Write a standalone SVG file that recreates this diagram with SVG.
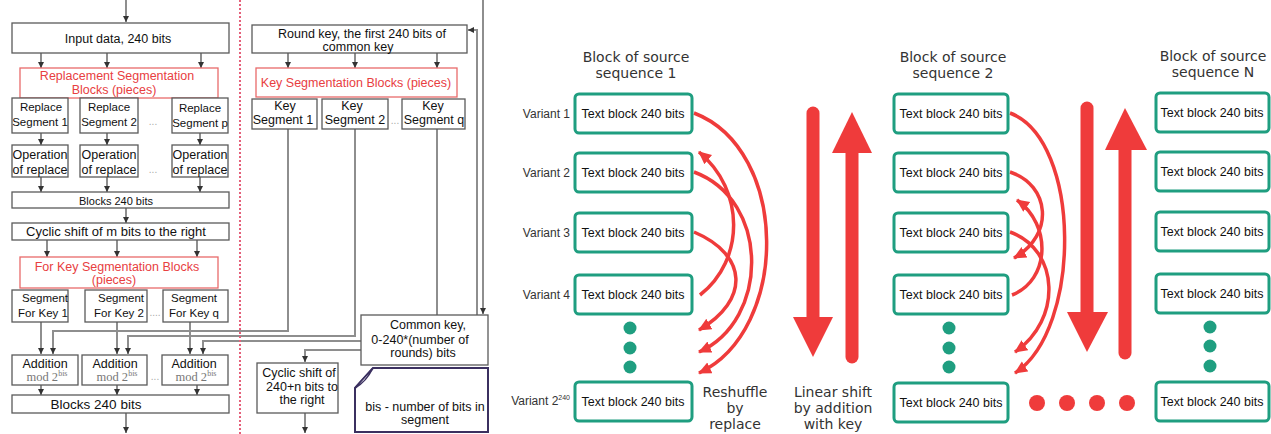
<svg xmlns="http://www.w3.org/2000/svg" width="1271" height="434" viewBox="0 0 1271 434">
<style>
.bg{fill:#fff}
.box{fill:#fff;stroke:#5a5a5a;stroke-width:1.3}
.rbox{fill:#fff;stroke:#e86a6a;stroke-width:1.3}
.t{font-family:"Liberation Sans",Arial,sans-serif;font-size:12.5px;fill:#111;text-anchor:middle}
.s{font-size:11.5px}
.r{fill:#e8403f}
.dots{font-family:"Liberation Sans",Arial,sans-serif;font-size:10px;fill:#aaa;text-anchor:middle}
.mod{font-family:"Liberation Serif","Times New Roman",serif;font-size:12.5px;fill:#777;text-anchor:middle}
.ar{stroke:#444;stroke-width:1.2;fill:none;marker-end:url(#ah)}
.cla{stroke:#8e8e8e;stroke-width:2;fill:none;marker-end:url(#ah)}
.tb{fill:#fff;stroke:#1f9e80;stroke-width:3}
.tt{font-family:"Liberation Sans",Arial,sans-serif;font-size:12.5px;fill:#111;text-anchor:middle}
.vl{font-family:"Liberation Sans",Arial,sans-serif;font-size:12px;fill:#333;text-anchor:end}
.h{font-family:"DejaVu Sans","Liberation Sans",sans-serif;font-size:14px;fill:#333;text-anchor:middle}
.gd{fill:#1f9e80}
.rd{fill:#ef3b3b}
.sh{stroke:#ef3b3b;stroke-width:13;stroke-linecap:round;fill:none}
.arc{stroke:#ef3b3b;stroke-width:3.5;fill:none;marker-end:url(#rh)}
</style>
<defs>
<marker id="ah" markerUnits="userSpaceOnUse" markerWidth="7" markerHeight="7" refX="6" refY="3.5" orient="auto"><path d="M0,0.5 L6,3.5 L0,6.5 z" fill="#333"/></marker>
<marker id="rh" markerUnits="userSpaceOnUse" markerWidth="15" markerHeight="13" refX="12" refY="6" orient="auto"><path d="M0,0 L13,6 L0,12 z" fill="#ef3b3b"/></marker>
</defs>
<rect class="bg" x="0" y="0" width="1271" height="434"/>

<g id="connectors">
<line class="ar" x1="126" y1="0" x2="126" y2="22"/>
<line class="ar" x1="41" y1="53" x2="41" y2="68"/>
<line class="ar" x1="107" y1="53" x2="107" y2="68"/>
<line class="ar" x1="201" y1="53" x2="201" y2="68"/>
<line class="ar" x1="41" y1="133" x2="41" y2="145"/>
<line class="ar" x1="107" y1="133" x2="107" y2="145"/>
<line class="ar" x1="200" y1="133" x2="200" y2="145"/>
<line class="ar" x1="41" y1="177" x2="41" y2="192"/>
<line class="ar" x1="107" y1="177" x2="107" y2="192"/>
<line class="ar" x1="200" y1="177" x2="200" y2="192"/>
<line class="ar" x1="126" y1="208" x2="126" y2="223"/>
<line class="ar" x1="47" y1="240" x2="47" y2="257"/>
<line class="ar" x1="117" y1="240" x2="117" y2="257"/>
<line class="ar" x1="197" y1="240" x2="197" y2="257"/>
<line class="cla" x1="41" y1="322" x2="41" y2="354"/>
<line class="cla" x1="117" y1="322" x2="117" y2="354"/>
<line class="cla" x1="190" y1="322" x2="190" y2="354"/>
<polyline class="cla" points="288,129 288,331 53,331 53,354"/>
<polyline class="cla" points="355,129 355,336 128,336 128,354"/>
<polyline class="cla" points="437,129 437,341 203,341 203,354"/>
<line class="ar" x1="41" y1="385" x2="41" y2="395"/>
<line class="ar" x1="117" y1="385" x2="117" y2="395"/>
<line class="ar" x1="197" y1="385" x2="197" y2="395"/>
<line class="ar" x1="126" y1="413" x2="126" y2="433"/>
<line class="ar" x1="288" y1="53" x2="288" y2="68"/>
<line class="ar" x1="355" y1="53" x2="355" y2="68"/>
<line class="ar" x1="437" y1="53" x2="437" y2="68"/>
<polyline class="cla" points="477,315 477,30 468,30"/>
<line class="cla" x1="483" y1="0" x2="483" y2="314"/>
<polyline class="cla" points="361,350 305,350 305,362"/>
<line class="ar" x1="305" y1="413" x2="305" y2="433"/>
<line x1="240" y1="0" x2="240" y2="434" stroke="#e5607a" stroke-width="2" stroke-dasharray="2,2"/>
<path class="arc" d="M694,113 C790,150 790,330 699,373"/>
<path class="arc" d="M694,172 C770,200 770,320 699,352"/>
<path class="arc" d="M694,232 C748,255 750,300 699,330"/>
<path class="arc" d="M700,295 C745,260 745,190 699,152"/>
<path class="arc" d="M1010,113 C1082,140 1082,330 1015,373"/>
<path class="arc" d="M1010,172 C1050,185 1055,235 1014,258"/>
<path class="arc" d="M1010,232 C1060,250 1062,320 1015,352"/>
<path class="arc" d="M1012,295 C1050,280 1052,225 1017,200"/>
</g>

<g id="input"><rect class="box" x="12" y="23" width="217" height="30"/><text class="t" x="118" y="43">Input data, 240 bits</text></g>
<g id="repl-seg-blocks"><rect class="rbox" x="20" y="68" width="198" height="30"/><text class="t r" x="117" y="80">Replacement Segmentation</text><text class="t r" x="114" y="94">Blocks (pieces)</text></g>
<g id="rs1"><rect class="box" x="12" y="98" width="56" height="35"/><text class="t s" x="41" y="111">Replace</text><text class="t s" x="40" y="126">Segment 1</text></g>
<g id="rs2"><rect class="box" x="80" y="98" width="58" height="35"/><text class="t s" x="109" y="111">Replace</text><text class="t s" x="109" y="126">Segment 2</text></g>
<g id="rsp"><rect class="box" x="172" y="98" width="56" height="35"/><text class="t s" x="200" y="112">Replace</text><text class="t s" x="200" y="127">Segment p</text></g>
<text class="dots" x="153" y="125">...</text>
<g id="op1"><rect class="box" x="12" y="145" width="56" height="32"/><text class="t" x="40" y="159">Operation</text><text class="t" x="40" y="174">of replace</text></g>
<g id="op2"><rect class="box" x="80" y="145" width="58" height="32"/><text class="t" x="109" y="159">Operation</text><text class="t" x="109" y="174">of replace</text></g>
<g id="opp"><rect class="box" x="172" y="145" width="56" height="32"/><text class="t" x="200" y="159">Operation</text><text class="t" x="200" y="174">of replace</text></g>
<text class="dots" x="153" y="173">...</text>
<g id="blocks1"><rect class="box" x="12" y="192" width="217" height="16"/><text class="t" x="116" y="205" style="font-size:11px">Blocks 240 bits</text></g>
<g id="cyclic-m"><rect class="box" x="12" y="223" width="217" height="17"/><text class="t" x="116" y="236" style="font-size:13px">Cyclic shift of m bits to the right</text></g>
<g id="key-seg-blocks"><rect class="rbox" x="20" y="257" width="198" height="31"/><text class="t r" x="117" y="271">For Key Segmentation Blocks</text><text class="t r" x="114" y="284">(pieces)</text></g>
<g id="sk1"><rect class="box" x="12" y="290" width="56" height="32"/><text class="t s" x="45" y="302">Segment</text><text class="t s" x="43" y="317">For Key 1</text></g>
<g id="sk2"><rect class="box" x="85" y="290" width="62" height="32"/><text class="t s" x="121" y="302">Segment</text><text class="t s" x="119" y="317">For Key 2</text></g>
<g id="skq"><rect class="box" x="163" y="290" width="65" height="32"/><text class="t s" x="194" y="302">Segment</text><text class="t s" x="194" y="317">For Key q</text></g>
<text class="dots" x="155" y="316">....</text>
<g id="add1"><rect class="box" x="12" y="355" width="66" height="30"/><text class="t" x="45" y="368">Addition</text><text class="mod" x="47" y="381">mod 2<tspan dy="-5" style="font-size:8px">bis</tspan></text></g>
<g id="add2"><rect class="box" x="82" y="355" width="65" height="30"/><text class="t" x="115" y="368">Addition</text><text class="mod" x="117" y="381">mod 2<tspan dy="-5" style="font-size:8px">bis</tspan></text></g>
<g id="addq"><rect class="box" x="162" y="355" width="66" height="30"/><text class="t" x="194" y="368">Addition</text><text class="mod" x="196" y="381">mod 2<tspan dy="-5" style="font-size:8px">bis</tspan></text></g>
<text class="dots" x="155" y="380">...</text>
<g id="blocks2"><rect class="box" x="12" y="395" width="217" height="18"/><text class="t" x="96" y="409" style="font-size:13.5px">Blocks 240 bits</text></g>

<g id="round-key"><rect class="box" x="252" y="25" width="215" height="28"/><text class="t" x="362" y="38">Round key, the first 240 bits of</text><text class="t" x="358" y="51">common key</text></g>
<g id="key-seg"><rect class="rbox" x="256" y="68" width="201" height="29"/><text class="t r" x="356" y="87">Key Segmentation Blocks (pieces)</text></g>
<g id="ks1"><rect class="box" x="252" y="99" width="65" height="30"/><text class="t" x="285" y="110">Key</text><text class="t" x="283" y="124">Segment 1</text></g>
<g id="ks2"><rect class="box" x="322" y="99" width="66" height="30"/><text class="t" x="352" y="110">Key</text><text class="t" x="355" y="124">Segment 2</text></g>
<g id="ksq"><rect class="box" x="402" y="99" width="63" height="30"/><text class="t" x="433" y="110">Key</text><text class="t" x="434" y="124">Segment q</text></g>
<text class="dots" x="395" y="124">...</text>
<g id="common-key"><rect class="box" x="361" y="315" width="127" height="50"/><text class="t" x="428" y="329">Common key,</text><text class="t" x="420" y="344">0-240*(number of</text><text class="t" x="423" y="357">rounds) bits</text></g>
<g id="cyclic-n"><rect class="box" x="257" y="363" width="81" height="50"/><text class="t" x="299" y="377">Cyclic shift of</text><text class="t" x="302" y="391">240+n bits to</text><text class="t" x="302" y="404">the right</text></g>
<g id="note"><path d="M373,368 L488,368 L488,432 L355,432 L355,388 Z" fill="#fff" stroke="#3b3060" stroke-width="2"/><path d="M355,388 L373,368 Q366,382 355,388 Z" fill="#fff" stroke="#3b3060" stroke-width="1.5"/><text class="t" x="425" y="411">bis - number of bits in</text><text class="t" x="425" y="424">segment</text></g>

<g id="seq1">
<text class="h" x="636" y="62">Block of source</text><text class="h" x="636" y="78">sequence 1</text>
<text class="vl" x="570" y="118">Variant  1</text>
<text class="vl" x="570" y="177">Variant  2</text>
<text class="vl" x="570" y="237">Variant  3</text>
<text class="vl" x="570" y="299">Variant  4</text>
<text class="vl" x="570" y="405">Variant  2<tspan dy="-5" style="font-size:7px">240</tspan></text>
<rect class="tb" x="575" y="94" width="117" height="39" rx="4"/><text class="tt" x="633" y="118">Text block 240 bits</text>
<rect class="tb" x="575" y="153" width="117" height="39" rx="4"/><text class="tt" x="633" y="177">Text block 240 bits</text>
<rect class="tb" x="575" y="213" width="117" height="39" rx="4"/><text class="tt" x="633" y="237">Text block 240 bits</text>
<rect class="tb" x="575" y="275" width="117" height="39" rx="4"/><text class="tt" x="633" y="299">Text block 240 bits</text>
<circle class="gd" cx="630" cy="328" r="6.5"/><circle class="gd" cx="630" cy="348" r="6.5"/><circle class="gd" cx="630" cy="367" r="6.5"/>
<rect class="tb" x="575" y="382" width="117" height="39" rx="4"/><text class="tt" x="633" y="406">Text block 240 bits</text>
</g>
<g id="seq2">
<text class="h" x="953" y="62">Block of source</text><text class="h" x="953" y="78">sequence 2</text>
<rect class="tb" x="894" y="94" width="114" height="39" rx="4"/><text class="tt" x="951" y="118">Text block 240 bits</text>
<rect class="tb" x="894" y="153" width="114" height="39" rx="4"/><text class="tt" x="951" y="177">Text block 240 bits</text>
<rect class="tb" x="894" y="213" width="114" height="39" rx="4"/><text class="tt" x="951" y="237">Text block 240 bits</text>
<rect class="tb" x="894" y="275" width="114" height="39" rx="4"/><text class="tt" x="951" y="299">Text block 240 bits</text>
<circle class="gd" cx="949" cy="328" r="6.5"/><circle class="gd" cx="949" cy="348" r="6.5"/><circle class="gd" cx="949" cy="367" r="6.5"/>
<rect class="tb" x="894" y="383" width="114" height="39" rx="4"/><text class="tt" x="951" y="407">Text block 240 bits</text>
</g>
<g id="seqN">
<text class="h" x="1213" y="61">Block of source</text><text class="h" x="1213" y="77">sequence N</text>
<rect class="tb" x="1156" y="93" width="113" height="39" rx="4"/><text class="tt" x="1212" y="117">Text block 240 bits</text>
<rect class="tb" x="1156" y="152" width="113" height="39" rx="4"/><text class="tt" x="1212" y="176">Text block 240 bits</text>
<rect class="tb" x="1156" y="212" width="113" height="39" rx="4"/><text class="tt" x="1212" y="236">Text block 240 bits</text>
<rect class="tb" x="1156" y="274" width="113" height="39" rx="4"/><text class="tt" x="1212" y="298">Text block 240 bits</text>
<circle class="gd" cx="1210" cy="327" r="6.5"/><circle class="gd" cx="1210" cy="346" r="6.5"/><circle class="gd" cx="1210" cy="366" r="6.5"/>
<rect class="tb" x="1156" y="382" width="113" height="39" rx="4"/><text class="tt" x="1212" y="406">Text block 240 bits</text>
</g>

<g id="shift1">
<line class="sh" x1="813" y1="113" x2="813" y2="320"/><polygon class="rd" points="793,317 833,317 813,357"/>
<line class="sh" x1="852" y1="150" x2="852" y2="357"/><polygon class="rd" points="852,112 872,153 832,153"/>
</g>
<g id="shift2">
<line class="sh" x1="1087" y1="108" x2="1087" y2="315"/><polygon class="rd" points="1067,312 1108,312 1087,352"/>
<line class="sh" x1="1125" y1="147" x2="1125" y2="353"/><polygon class="rd" points="1125,108 1147,150 1105,150"/>
</g>
<g id="reddots"><circle class="rd" cx="1037" cy="403" r="8"/><circle class="rd" cx="1067" cy="403" r="8"/><circle class="rd" cx="1097" cy="403" r="8"/><circle class="rd" cx="1127" cy="403" r="8"/></g>
<g id="lbl-reshuffle"><text class="h" x="735" y="397">Reshuffle</text><text class="h" x="735" y="413">by</text><text class="h" x="735" y="429">replace</text></g>
<g id="lbl-linear"><text class="h" x="833" y="397">Linear shift</text><text class="h" x="833" y="413">by addition</text><text class="h" x="833" y="429">with key</text></g>
</svg>
